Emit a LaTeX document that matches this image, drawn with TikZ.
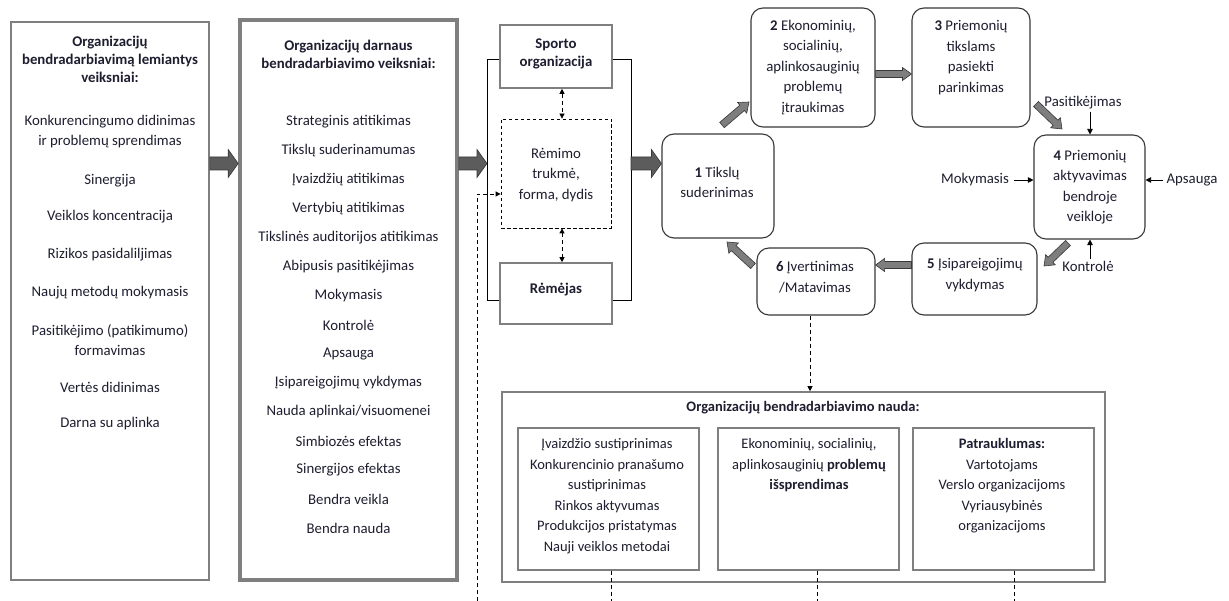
\documentclass[tikz,border=0pt]{standalone}
\usepackage{fontspec}
\setmainfont{Carlito}
\usetikzlibrary{arrows.meta,calc}
\definecolor{boxgray}{HTML}{7F7F7F}
\definecolor{arrgray}{HTML}{5C5C5C}
\definecolor{arrlight}{HTML}{7E7E7E}
\definecolor{arredge}{HTML}{383838}
\definecolor{txt}{HTML}{1E1E30}
\tikzset{
  lbl/.style={font=\fontsize{14.8}{20.5}\selectfont, text=txt, align=center, inner sep=2pt},
  lblb/.style={font=\fontsize{14.5}{20.5}\selectfont, text=txt, align=center, inner sep=2pt},
  ttl/.style={lbl, font=\fontsize{14.8}{18}\selectfont\bfseries},
  sqbox/.style={draw=boxgray, line width=1.6pt, inner sep=0pt},
  thickbox/.style={draw=boxgray, line width=3.6pt, inner sep=0pt},
  dbox/.style={draw=black, line width=0.8pt, dash pattern=on 3.5pt off 2.5pt, inner sep=0pt},
  rbox/.style={draw=black!78, line width=1.1pt, rounded corners=12pt, inner sep=0pt},
  bigfill/.style={fill=arrgray, draw=arredge, line width=0.6pt, line join=miter},
  smallfill/.style={fill=arrlight, draw=arredge, line width=0.6pt, line join=miter},
  thinarrow/.style={black, line width=0.8pt, -{Triangle[length=5.5pt,width=5.5pt]}},
  dashline/.style={black, line width=0.8pt, dash pattern=on 4pt off 3pt},
  dasharrow/.style={dashline, -{Triangle[length=5pt,width=5pt]}},
  dashboth/.style={dashline, {Triangle[length=5pt,width=5pt]}-{Triangle[length=5pt,width=5pt]}},
  plain/.style={black, line width=0.9pt}
}
% block arrow: #1 style, #2 start, #3 tip, #4 half body, #5 half head, #6 head length
\newcommand\blockarr[6]{%
  \coordinate (neck) at ($(#3)!#6!(#2)$);
  \filldraw[#1] ($(#2)!#4!90:(#3)$) -- ($(neck)!#4!90:(#3)$) -- ($(neck)!#5!90:(#3)$)
     -- (#3) -- ($(neck)!#5!-90:(#3)$) -- ($(neck)!#4!-90:(#3)$) -- ($(#2)!#4!-90:(#3)$) -- cycle;}
\begin{document}
\begin{tikzpicture}[x=1pt,y=-1pt]
\useasboundingbox (0,0) rectangle (1229,601);
\fill[white] (0,0) rectangle (1229,601);

% ---------- Box A ----------
\node[sqbox, minimum width=198pt, minimum height=558pt] (A) at (110,301) {};
\node[ttl] (At) at (110,59) {Organizacijų\\bendradarbiavimą lemiantys\\veiksniai:};
\node[lbl] (A1) at (110,131.5) {Konkurencingumo didinimas\\ir problemų sprendimas};
\node[lbl] (A2) at (110,181) {Sinergija};
\node[lbl] (A3) at (110,217) {Veiklos koncentracija};
\node[lbl] (A4) at (110,255) {Rizikos pasidaliljimas};
\node[lbl] (A5) at (110,293) {Naujų metodų mokymasis};
\node[lbl] (A6) at (110,340) {Pasitikėjimo (patikimumo)\\formavimas};
\node[lbl] (A7) at (110,387) {Vertės didinimas};
\node[lbl] (A8) at (110,424) {Darna su aplinka};

% ---------- Box B ----------
\node[thickbox, minimum width=217pt, minimum height=560pt] (B) at (348.5,300) {};
\node[ttl] (Bt) at (348.5,54) {Organizacijų darnaus\\bendradarbiavimo veiksniai:};
\foreach \t [count=\i from 0] in {Strateginis atitikimas, Tikslų suderinamumas, Įvaizdžių atitikimas, Vertybių atitikimas, Tikslinės auditorijos atitikimas, Abipusis pasitikėjimas, Mokymasis, Kontrolė, Apsauga, Įsipareigojimų vykdymas, Nauda aplinkai/visuomenei, Simbiozės efektas, Sinergijos efektas, Bendra veikla, Bendra nauda}
  \node[lbl] (B\i) at (348.5,{122+29.0*\i}) {\t};

% ---------- Sponsorship block ----------
\node[sqbox, minimum width=112pt, minimum height=63pt] (sporto) at (556,56.5) {};
\node[ttl] (sportot) at (556,53.5) {Sporto\\organizacija};
\node[dbox, minimum width=110pt, minimum height=109pt] (remimo) at (556,173.5) {};
\node[lbl] (remimot) at (556,175) {Rėmimo\\trukmė,\\forma, dydis};
\node[sqbox, minimum width=112pt, minimum height=61pt] (remejas) at (556,293.5) {};
\node[ttl] (remejast) at (556,290) {Rėmėjas};

\coordinate (bxL) at (487,0);
\coordinate (bxR) at (631,0);
\coordinate (arrY) at (0,163.5);
\coordinate (spL) at ([yshift=-2.5pt]sporto.west);
\coordinate (spR) at ([yshift=-2.5pt]sporto.east);
\coordinate (rjL) at ([yshift=-6.5pt]remejas.west);
\coordinate (rjR) at ([yshift=-6.5pt]remejas.east);
\draw[plain] (spL) -| (bxL |- rjL) -- (rjL);
\draw[plain] (spR) -| (bxR |- rjR) -- (rjR);

\draw[dashboth] ([xshift=6pt]sporto.south) -- ([xshift=6pt]remimo.north);
\draw[dashboth] ([xshift=6pt]remimo.south) -- ([xshift=6pt]remejas.north);

\coordinate (lb) at (477,601);
\coordinate (rmIn) at ([yshift=-20.5pt]remimo.west);
\draw[dasharrow] (lb) |- (rmIn);

% ---------- cycle ----------
\node[rbox, minimum width=112pt, minimum height=104pt] (b1) at (718,186) {};
\node[lbl] (b1t) at (717,182.5) {\textbf{1} Tikslų\\suderinimas};
\node[rbox, minimum width=124pt, minimum height=119pt] (b2) at (813,67.5) {};
\node[lbl] (b2t) at (813,67.5) {\textbf{2} Ekonominių,\\socialinių,\\aplinkosauginių\\problemų\\įtraukimas};
\node[rbox, minimum width=118pt, minimum height=119pt] (b3) at (971,67.5) {};
\node[lbl] (b3t) at (971,57.5) {\textbf{3} Priemonių\\tikslams\\pasiekti\\parinkimas};
\node[rbox, minimum width=111pt, minimum height=104pt] (b4) at (1089.5,187) {};
\node[lbl] (b4t) at (1090,187) {\textbf{4} Priemonių\\aktyvavimas\\bendroje\\veikloje};
\node[rbox, minimum width=125pt, minimum height=72pt] (b5) at (974.5,279) {};
\node[lbl] (b5t) at (975,275) {\textbf{5} Įsipareigojimų\\vykdymas};
\node[rbox, minimum width=118pt, minimum height=67pt] (b6) at (816,281.5) {};
\node[lbl] (b6t) at (815,277) {\textbf{6} Įvertinimas\\/Matavimas};

% ---------- big arrows ----------
\coordinate (ab1) at (A.east |- arrY);   \coordinate (ab2) at (B.west |- arrY);
\coordinate (bc1) at (B.east |- arrY);   \coordinate (bc2) at (bxL |- arrY);
\coordinate (c11) at (bxR |- arrY);      \coordinate (c12) at (b1.west |- arrY);
\blockarr{bigfill}{ab1}{ab2}{6.5pt}{14pt}{10pt}
\blockarr{bigfill}{bc1}{bc2}{6.5pt}{14pt}{10pt}
\blockarr{bigfill}{c11}{c12}{6.5pt}{14pt}{10pt}

% ---------- small arrows ----------
\coordinate (d12a) at (722,125); \coordinate (d12b) at (749,102);
\coordinate (d34a) at (1036,104); \coordinate (d34b) at (1062,129);
\coordinate (d45a) at (1068,243); \coordinate (d45b) at (1044,266);
\coordinate (d61a) at (753,266); \coordinate (d61b) at (727,242);
\coordinate (a23) at ([yshift=-6.5pt]b2.east);
\coordinate (a23b) at (a23 -| b3.west);
\coordinate (a56) at ([yshift=14pt]b5.west);
\coordinate (a56b) at (a56 -| b6.east);
\blockarr{smallfill}{d12a}{d12b}{3.5pt}{7pt}{9pt}
\blockarr{smallfill}{a23}{a23b}{3.5pt}{6.5pt}{9pt}
\blockarr{smallfill}{d34a}{d34b}{3.5pt}{7pt}{9pt}
\blockarr{smallfill}{d45a}{d45b}{3.5pt}{7pt}{9pt}
\blockarr{smallfill}{a56}{a56b}{3.5pt}{6.5pt}{9pt}
\blockarr{smallfill}{d61a}{d61b}{3.5pt}{7pt}{9pt}

% ---------- influences on box 4 ----------
\node[lbl] (pas) at (1083,103) {Pasitikėjimas};
\node[lbl] (kon) at (1088,266) {Kontrolė};
\node[lbl, inner sep=5pt] (mok) at (975,180) {Mokymasis};
\node[lbl, inner sep=3pt] (aps) at (1192,180) {Apsauga};
\coordinate (b4n) at ([xshift=0.5pt]b4.north);
\coordinate (b4s) at ([xshift=0.5pt]b4.south);
\draw[thinarrow] (b4n |- pas.south) -- (b4n);
\draw[thinarrow] (b4s |- kon.north) -- (b4s);
\draw[thinarrow] (mok.east) -- (mok.east -| b4.west);
\draw[thinarrow] (aps.west) -- (aps.west -| b4.east);

% ---------- benefits ----------
\node[sqbox, minimum width=603pt, minimum height=190pt] (big) at (803.5,487) {};
\node[lblb, font=\fontsize{14.5}{18}\selectfont\bfseries] (bigt) at (803,408) {Organizacijų bendradarbiavimo nauda:};
\node[sqbox, minimum width=181pt, minimum height=142pt] (s1) at (608.5,499) {};
\node[sqbox, minimum width=181pt, minimum height=142pt] (s2) at (808.5,499) {};
\node[sqbox, minimum width=181pt, minimum height=142pt] (s3) at (1003.5,499) {};
\node[lblb] (s1t) at (607,496) {Įvaizdžio sustiprinimas\\Konkurencinio pranašumo\\sustiprinimas\\Rinkos aktyvumas\\Produkcijos pristatymas\\Nauji veiklos metodai};
\node[lblb] (s2t) at (809,465.5) {Ekonominių, socialinių,\\aplinkosauginių \textbf{problemų}\\\textbf{išsprendimas}};
\node[lblb] (s3t) at (1002,486) {\textbf{Patrauklumas:}\\Vartotojams\\Verslo organizacijoms\\Vyriausybinės\\organizacijoms};

\coordinate (b6d) at ([xshift=-6pt]b6.south);
\draw[dasharrow] (b6d) -- (b6d |- big.north);

\coordinate (bot) at (0,601);
\coordinate (s1d) at ([xshift=2.5pt]s1.south);
\coordinate (s2d) at ([xshift=8.5pt]s2.south);
\coordinate (s3d) at ([xshift=10.5pt]s3.south);
\draw[dashline] (s1d) -- (s1d |- bot);
\draw[dashline] (s2d) -- (s2d |- bot);
\draw[dashline] (s3d) -- (s3d |- bot);
\end{tikzpicture}
\end{document}
